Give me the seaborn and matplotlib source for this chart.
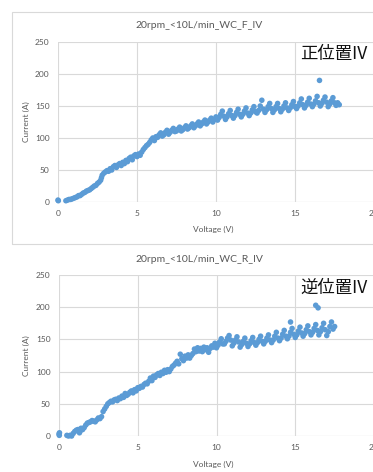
import seaborn as sns
import pandas as pd
import numpy as np
import matplotlib.pyplot as plt
from matplotlib.patches import Rectangle

# 正位置 (F) の測定点
volt_f = [0.0, 0.02, 0.5, 0.6, 0.7, 0.8, 0.9, 1.0, 1.1, 1.2, 1.3, 1.4, 1.5, 1.6, 1.7, 1.8, 1.9, 2.0,
          2.1, 2.2, 2.3, 2.4, 2.5, 2.6, 2.7, 2.75, 2.8, 2.9, 3.0, 3.1, 3.2,
          3.3, 3.4, 3.5, 3.6, 3.7, 3.8, 3.9, 4.0, 4.1, 4.2, 4.3, 4.4, 4.5, 4.6, 4.7, 4.8, 4.9, 5.0,
          5.1, 5.2, 5.3, 5.4, 5.5, 5.6, 5.7, 5.8, 5.9, 6.0, 6.1, 6.2,
          6.3, 6.4, 6.5, 6.6, 6.7, 6.8, 6.9, 7.0, 7.1, 7.2, 7.3, 7.4, 7.5, 7.6, 7.7, 7.8, 7.9, 8.0,
          8.1, 8.2, 8.3, 8.4, 8.5, 8.6, 8.7, 8.8, 8.9, 9.0, 9.1, 9.2, 9.3, 9.4, 9.5, 9.6, 9.7, 9.8,
          9.9, 10.0,
          10.1, 10.2, 10.3, 10.4, 10.5, 10.6, 10.7, 10.8, 10.9, 11.0, 11.1, 11.2, 11.3, 11.4, 11.5,
          11.6, 11.7, 11.8, 11.9, 12.0, 12.1, 12.2, 12.3, 12.4, 12.5, 12.6, 12.7, 12.8, 12.9, 13.0,
          13.1, 13.2, 13.3, 13.4, 13.5, 13.6, 13.7, 13.8, 13.9, 14.0, 14.1, 14.2, 14.3, 14.4, 14.5,
          14.6, 14.7, 14.8, 14.9, 15.0, 15.1, 15.2, 15.3, 15.4, 15.5, 15.6, 15.7, 15.8, 15.9, 16.0,
          16.1, 16.2, 16.3, 16.4, 16.5, 16.6, 16.7, 16.8, 16.9, 17.0, 17.1, 17.2, 17.3, 17.4, 17.5,
          17.6, 17.7, 17.8, 16.55]
curr_f = [3, 2, 2, 3, 4, 4, 5, 6, 7, 8, 10, 10, 12, 14, 15, 17, 18, 19,
          21, 23, 25, 26, 29, 31, 34, 38, 42, 45, 47, 49, 48,
          52, 50, 55, 57, 54, 58, 60, 57, 62, 60, 65, 63, 68, 70, 66, 72, 74, 71,
          75, 73, 78, 82, 85, 88, 90, 93, 97, 100, 96, 102,
          101, 105, 108, 103, 105, 109, 112, 106, 109, 112, 115, 110, 111, 114, 117, 111, 113, 116,
          119, 114, 116, 119, 122, 116, 119, 122, 125, 119, 122, 125, 128, 122, 125, 128, 131, 125,
          129, 133,
          128, 132, 137, 142, 134, 129, 133, 138, 143, 135, 131, 135, 140, 145, 137,
          133, 137, 142, 147, 139, 135, 139, 144, 149, 141, 139, 143, 150, 159, 145,
          140, 144, 149, 154, 146, 140, 144, 149, 154, 146, 141, 145, 150, 155, 147,
          143, 147, 152, 157, 149, 146, 150, 155, 161, 152, 147, 151, 156, 162, 153,
          149, 153, 158, 165, 155, 150, 154, 159, 164, 156, 149, 153, 158, 163, 155,
          151, 155, 152, 190]

# 逆位置 (R) の測定点
volt_r = [0.0, 0.02, 0.03, 0.5, 0.6, 0.7, 0.8, 0.9, 1.0, 1.1, 1.2, 1.3, 1.35, 1.4, 1.5, 1.6, 1.7,
          1.8, 1.9, 2.0, 2.1, 2.2, 2.3, 2.4, 2.5, 2.6, 2.7, 2.8, 2.9, 3.0, 3.1, 3.2, 3.3, 3.4, 3.5,
          3.6, 3.7, 3.8, 3.9, 4.0, 4.1, 4.2, 4.3, 4.4, 4.5, 4.6, 4.7, 4.8, 4.9, 5.0, 5.1, 5.2, 5.3,
          5.4, 5.5, 5.6, 5.7, 5.8, 5.9, 6.0, 6.1, 6.2, 6.3, 6.4, 6.5, 6.6, 6.7, 6.8, 6.9, 7.0, 7.1,
          7.2, 7.3, 7.4, 7.5, 7.6, 7.7, 7.8, 7.9, 8.0, 8.1, 8.2, 8.3, 8.4, 8.5, 8.6, 8.7, 8.8, 8.9,
          9.0, 9.1, 9.2, 9.3, 9.4, 9.5, 9.6, 9.7, 9.8, 9.9,
          10.0, 10.1, 10.2, 10.3, 10.4, 10.5, 10.6, 10.7, 10.8, 10.9, 11.0, 11.1, 11.2, 11.3, 11.4,
          11.5, 11.6, 11.7, 11.8, 11.9, 12.0, 12.1, 12.2, 12.3, 12.4, 12.5, 12.6, 12.7, 12.8, 12.9,
          13.0, 13.1, 13.2, 13.3, 13.4, 13.5, 13.6, 13.7, 13.8, 13.9, 14.0, 14.1, 14.2, 14.3, 14.4,
          14.5, 14.6, 14.7, 14.8, 14.9, 15.0, 15.1, 15.2, 15.3, 15.4, 15.5, 15.6, 15.7, 15.8, 15.9,
          16.0, 16.1, 16.2, 16.3, 16.4, 16.5, 16.6, 16.7, 16.8, 16.9, 17.0, 17.1, 17.2, 17.3, 17.4,
          17.5, 14.7, 16.3, 16.45]
curr_r = [3, 1, 5, 1, 0, 1, 0, 4, 7, 9, 10, 5, 8, 12, 10, 13, 17,
          20, 21, 22, 24, 23, 22, 25, 28, 27, 30, 38, 42, 46, 50, 52, 54, 53, 56,
          57, 55, 59, 58, 62, 60, 66, 63, 65, 68, 70, 67, 72, 70, 75, 74, 77, 76,
          80, 82, 81, 85, 90, 86, 93, 91, 95, 97, 94, 99, 97, 102, 99, 103, 100, 104,
          108, 110, 113, 116, 112, 127, 120, 117, 124, 121, 126, 121, 125, 128, 135, 131, 137, 132,
          136, 131, 138, 134, 137, 130, 136, 140, 138, 144,
          137, 141, 146, 151, 143, 143, 147, 152, 156, 149, 140, 144, 149, 154, 146,
          138, 142, 147, 152, 144, 139, 143, 148, 153, 145, 141, 145, 150, 155, 147,
          143, 147, 152, 157, 149, 145, 149, 155, 161, 152, 148, 152, 158, 164, 155,
          151, 155, 161, 167, 158, 153, 157, 163, 169, 160, 155, 159, 165, 171, 162,
          157, 161, 167, 173, 164, 157, 162, 168, 175, 165, 156, 162, 170, 177, 166,
          170, 177, 203, 199]

titles = ["20rpm_<10L/min_WC_F_IV", "20rpm_<10L/min_WC_R_IV"]
notes = ["正位置IV", "逆位置IV"]
x_ticks = [0, 5, 10, 15, 20]
y_ticks = [0, 50, 100, 150, 200, 250]

sns.set_style("white")
plt.rcParams['font.family'] = ['Lato', 'DejaVu Sans']

gray = "#595959"
blue = "#5B9BD5"

fig = plt.figure(figsize=(3.73, 4.72), dpi=100)
# 上のグラフの枠
fig.patches.append(Rectangle((12 / 373, 1 - 244 / 472), 1.0, 232 / 472, transform=fig.transFigure,
                             fill=False, edgecolor="#d9d9d9", linewidth=0.8))

boxes = [[58 / 373, 1 - 202 / 472, 316 / 373, 160 / 472],
         [59 / 373, 1 - 436 / 472, 315 / 373, 161 / 472]]
data = [pd.DataFrame({"V": volt_f, "I": curr_f}), pd.DataFrame({"V": volt_r, "I": curr_r})]
title_y = [25, 259]
note_y = [54, 288]
xlab_y = [229, 464]

for k in range(2):
    ax = fig.add_axes(boxes[k])
    sns.scatterplot(data=data[k], x="V", y="I", ax=ax, color=blue, s=16,
                    edgecolor="none", linewidth=0, clip_on=False)
    ax.set_xlim(0, 20)
    ax.set_ylim(0, 250)
    ax.set_xticks(x_ticks)
    ax.set_yticks(y_ticks)
    ax.grid(True, color="#d9d9d9", linewidth=0.8)
    ax.set_axisbelow(True)
    for sp in ax.spines.values():
        sp.set_visible(False)
    ax.axhline(0, color="#d9d9d9", linewidth=0.8, zorder=0)
    ax.tick_params(length=0, labelsize=6, labelcolor=gray, pad=6)
    ax.set_xlabel("")
    ax.set_ylabel("")
    fig.text(199 / 373, 1 - title_y[k] / 472, titles[k], ha="center", va="center",
             fontsize=7.5, color=gray)
    fig.text(213 / 373, 1 - xlab_y[k] / 472, "Voltage (V)", ha="center", va="center",
             fontsize=6, color=gray)
    fig.text(26 / 373, (boxes[k][1] + boxes[k][3] / 2), "Current (A)", ha="center",
             va="center", rotation=90, fontsize=6, color=gray)
    fig.text(300 / 373, 1 - note_y[k] / 472, notes[k], ha="left", va="center",
             fontsize=12.5, color="#111111", family=['Noto Sans CJK JP', 'DejaVu Sans'])

fig.savefig("out.png", dpi=100)
